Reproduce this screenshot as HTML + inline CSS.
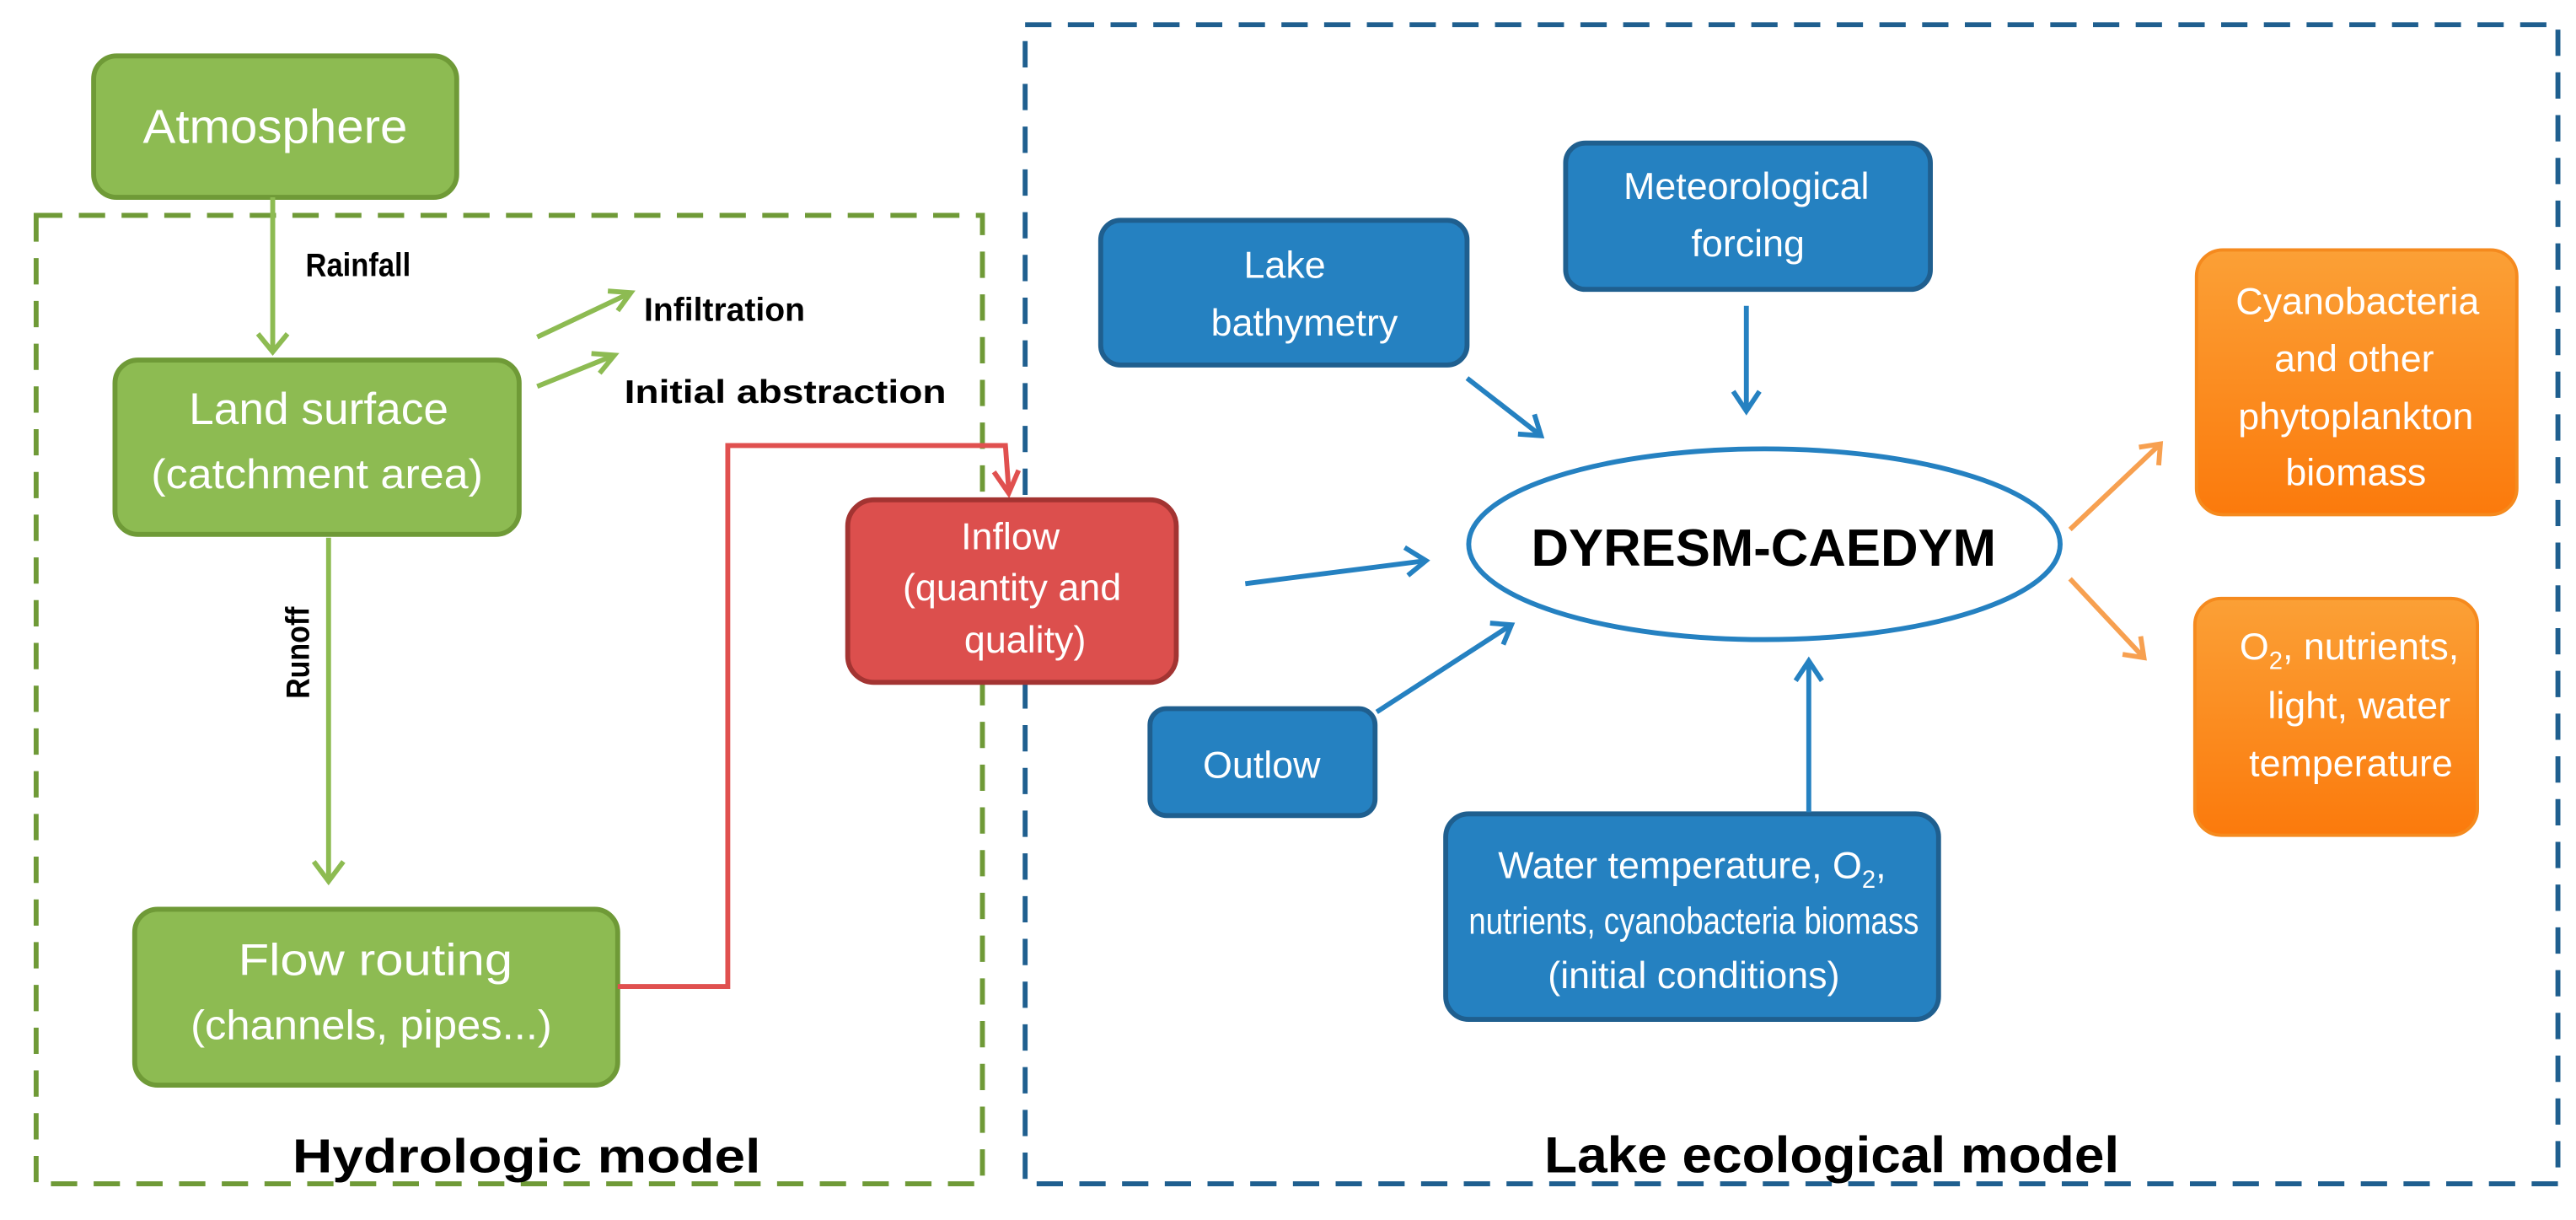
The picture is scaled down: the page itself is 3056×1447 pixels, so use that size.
<!DOCTYPE html>
<html><head><meta charset="utf-8"><style>
html,body{margin:0;padding:0;background:#fff;}
svg{display:block;}
text{font-family:"Liberation Sans",sans-serif;}
</style></head><body>
<svg width="3056" height="1447" viewBox="0 0 1568 742" preserveAspectRatio="none" xmlns="http://www.w3.org/2000/svg">
<defs>
<linearGradient id="og" x1="0" y1="0" x2="0" y2="1"><stop offset="0" stop-color="#fba036"/><stop offset="1" stop-color="#fb7a0c"/></linearGradient>
</defs>
<rect x="22" y="131" width="576" height="589" fill="none" stroke="#6f9a37" stroke-width="3" stroke-dasharray="16,10"/>
<rect x="624" y="15" width="933" height="705" fill="none" stroke="#1f5f8f" stroke-width="3" stroke-dasharray="16,10"/>

<rect x="57" y="34" width="221" height="86" rx="14" fill="#8dbb52" stroke="#6f9a37" stroke-width="3"/>
<text x="87" y="87" font-size="29" fill="#fff" textLength="161" lengthAdjust="spacingAndGlyphs">Atmosphere</text>
<rect x="70" y="219" width="246" height="106" rx="14" fill="#8dbb52" stroke="#6f9a37" stroke-width="3"/>
<text x="115" y="258" font-size="27" fill="#fff" textLength="158" lengthAdjust="spacingAndGlyphs">Land surface</text>
<text x="92" y="297" font-size="25" fill="#fff" textLength="202" lengthAdjust="spacingAndGlyphs">(catchment area)</text>
<rect x="82" y="553" width="294" height="107" rx="14" fill="#8dbb52" stroke="#6f9a37" stroke-width="3"/>
<text x="145" y="593" font-size="27" fill="#fff" textLength="167" lengthAdjust="spacingAndGlyphs">Flow routing</text>
<text x="116" y="632" font-size="25" fill="#fff" textLength="220" lengthAdjust="spacingAndGlyphs">(channels, pipes...)</text>

<g stroke="#8dbb52" stroke-width="3" fill="none">
<line x1="166" y1="120" x2="166" y2="214"/><polyline points="157,203 166,214 175,203"/>
<line x1="200" y1="327" x2="200" y2="536"/><polyline points="191,524 200,536 209,524"/>
<line x1="327" y1="205" x2="384" y2="178"/><polyline points="370,177 384,178 376,189"/>
<line x1="327" y1="235" x2="374" y2="216"/><polyline points="360,215 374,216 365,227"/>
</g>
<g font-weight="bold" fill="#000">
<text x="186" y="168" font-size="20" textLength="64" lengthAdjust="spacingAndGlyphs">Rainfall</text>
<text x="392" y="195" font-size="20" textLength="98" lengthAdjust="spacingAndGlyphs">Infiltration</text>
<text x="380" y="245" font-size="20" textLength="196" lengthAdjust="spacingAndGlyphs">Initial abstraction</text>
<text transform="translate(188,425) rotate(-90)" font-size="20" textLength="56" lengthAdjust="spacingAndGlyphs">Runoff</text>
</g>

<polyline points="376,600 443,600 443,271 612,271 614,298" fill="none" stroke="#e0504f" stroke-width="3"/>
<polyline points="605,287 614,300 620,286" fill="none" stroke="#e0504f" stroke-width="3"/>
<rect x="516" y="304" width="200" height="111" rx="16" fill="#dc4f4d" stroke="#a33432" stroke-width="3"/>
<g font-size="23" fill="#fff" text-anchor="middle">
<text x="615" y="334">Inflow</text>
<text x="616" y="365">(quantity and</text>
<text x="624" y="397">quality)</text>
</g>

<g fill="#2581c1" stroke="#1f5f8f" stroke-width="3">
<rect x="670" y="134" width="223" height="88" rx="12"/>
<rect x="953" y="87" width="222" height="89" rx="12"/>
<rect x="700" y="431" width="137" height="65" rx="10"/>
<rect x="880" y="495" width="300" height="125" rx="14"/>
</g>
<g font-size="23" fill="#fff" text-anchor="middle">
<text x="782" y="169">Lake</text>
<text x="794" y="204">bathymetry</text>
<text x="1063" y="121">Meteorological</text>
<text x="1064" y="156">forcing</text>
<text x="768" y="473">Outlow</text>
<text x="1030" y="534">Water temperature, O<tspan font-size="15" dy="6">2</tspan><tspan dy="-6">,</tspan></text>
<text x="1031" y="568" font-size="23" textLength="274" lengthAdjust="spacingAndGlyphs">nutrients, cyanobacteria biomass</text>
<text x="1031" y="601">(initial conditions)</text>
</g>

<ellipse cx="1074" cy="331" rx="180" ry="58" fill="#fff" stroke="#2581c1" stroke-width="3"/>
<text x="932" y="344" font-size="32" font-weight="bold" fill="#000" textLength="283" lengthAdjust="spacingAndGlyphs">DYRESM-CAEDYM</text>

<g stroke="#2581c1" stroke-width="3" fill="none">
<line x1="758" y1="355" x2="868" y2="341"/><polyline points="855,333 868,341 857,350"/>
<line x1="893" y1="230" x2="938" y2="265"/><polyline points="924,264 938,265 934,252"/>
<line x1="1063" y1="186" x2="1063" y2="250"/><polyline points="1055,238 1063,250 1071,238"/>
<line x1="838" y1="433" x2="920" y2="380"/><polyline points="907,379 920,380 915,392"/>
<line x1="1101" y1="494" x2="1101" y2="402"/><polyline points="1093,414 1101,402 1109,414"/>
</g>

<g fill="url(#og)" stroke="#f58a1e" stroke-width="2">
<rect x="1337" y="152" width="195" height="161" rx="16"/>
<rect x="1336" y="364" width="172" height="144" rx="16"/>
</g>
<g font-size="23" fill="#fff" text-anchor="middle">
<text x="1435" y="191">Cyanobacteria</text>
<text x="1433" y="226">and other</text>
<text x="1434" y="261">phytoplankton</text>
<text x="1434" y="295">biomass</text>
<text x="1430" y="401">O<tspan font-size="15" dy="6">2</tspan><tspan dy="-6">, nutrients,</tspan></text>
<text x="1436" y="437">light, water</text>
<text x="1431" y="472">temperature</text>
</g>
<g stroke="#f7a050" stroke-width="3" fill="none">
<line x1="1260" y1="322" x2="1315" y2="270"/><polyline points="1302,272 1315,270 1314,283"/>
<line x1="1260" y1="352" x2="1305" y2="400"/><polyline points="1303,387 1305,400 1292,398"/>
</g>

<text x="178" y="713" font-size="29" font-weight="bold" fill="#000" textLength="285" lengthAdjust="spacingAndGlyphs">Hydrologic model</text>
<text x="940" y="713" font-size="31" font-weight="bold" fill="#000" textLength="350" lengthAdjust="spacingAndGlyphs">Lake ecological model</text>
</svg>
</body></html>
